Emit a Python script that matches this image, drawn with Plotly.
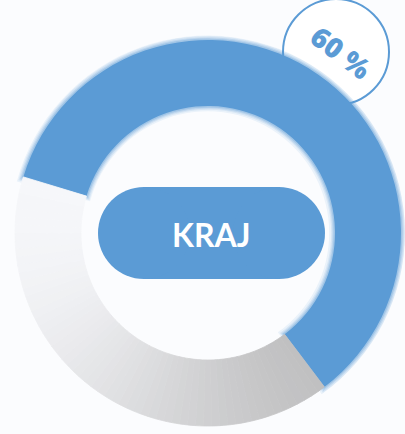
import math
import plotly.graph_objects as go

W, H = 405, 434

# ---- data ----
labels = ["Kraj", "Ostatní"]
values = [60, 40]
center_label = "KRAJ"
badge_label = "60 %"

# ---- style ----
BLUE = "#5b9bd5"
BG = "#fbfcfe"
LIGHT = (246, 247, 250)
DARK = (190, 190, 191)

cx, cy, R = 208, 233, 193
r_in = 127
start_deg = 163.1  # math angle (deg) where first slice starts, clockwise


def px(x):
    return x / W


def py(y):
    return 1 - y / H


total = sum(values)
blue_deg = 360 * values[0] / total

# gray slice split into sub-slices to imitate the linear gradient
N = 60
sub_vals = [values[1] / N] * N
sub_cols = []
phi = math.radians(35)
for i in range(N):
    frac = (values[0] + (i + 0.5) * values[1] / N) / total
    ang = math.radians(start_deg - 360 * frac)
    sx, sy = math.cos(ang), -math.sin(ang)
    proj = sx * math.cos(phi) + sy * math.sin(phi)
    t = max(0.0, min(1.0, (proj + 1) / 2)) ** 1.5
    c = tuple(round(LIGHT[k] + (DARK[k] - LIGHT[k]) * t) for k in range(3))
    sub_cols.append("rgb(%d,%d,%d)" % c)

fig = go.Figure()

# soft glow around the blue segment
for e, a in [(5, 0.10), (3.8, 0.14), (2.6, 0.20), (1.4, 0.28)]:
    Rg = R + e
    hg = (r_in - e) / Rg
    dlt = math.degrees(e / ((R + r_in) / 2))
    bd = blue_deg + 2 * dlt
    fig.add_trace(go.Pie(
        values=[bd, 360 - bd],
        marker=dict(colors=["rgba(91,155,213,%.2f)" % a, "rgba(0,0,0,0)"],
                    line=dict(width=0)),
        hole=hg, sort=False, direction="clockwise",
        rotation=90 - (start_deg + dlt),
        textinfo="none", hoverinfo="skip", showlegend=False,
        domain=dict(x=[px(cx - Rg), min(1, px(cx + Rg))], y=[py(cy + Rg), py(cy - Rg)]),
    ))

fig.add_trace(go.Pie(
    labels=[labels[0]] + ["%s %d" % (labels[1], i) for i in range(N)],
    values=[values[0]] + sub_vals,
    marker=dict(colors=[BLUE] + sub_cols,
                line=dict(color=[BLUE] + sub_cols, width=[0] + [0.8] * N)),
    hole=r_in / R, sort=False, direction="clockwise",
    rotation=90 - start_deg,
    textinfo="none", hoverinfo="skip", showlegend=False,
    domain=dict(x=[px(cx - R), px(cx + R)], y=[py(cy + R), py(cy - R)]),
))

shapes = []
# badge circle (behind the ring)
bx, by, br = 336, 52, 53
shapes.append(dict(type="circle", xref="paper", yref="paper", layer="below",
                   x0=px(bx - br), x1=px(bx + br), y0=py(by + br), y1=py(by - br),
                   fillcolor="white", line=dict(color=BLUE, width=2)))
# pill in the centre
pl, pr, pt, pb = 98, 325, 187, 279
ph = pb - pt
shapes.append(dict(type="rect", xref="paper", yref="paper", layer="above",
                   x0=px(pl + ph / 2), x1=px(pr - ph / 2), y0=py(pb), y1=py(pt),
                   fillcolor=BLUE, line=dict(width=0)))
for x0 in (pl, pr - ph):
    shapes.append(dict(type="circle", xref="paper", yref="paper", layer="above",
                       x0=px(x0), x1=px(x0 + ph), y0=py(pb), y1=py(pt),
                       fillcolor=BLUE, line=dict(width=0)))

annotations = [
    dict(text="<b>%s</b>" % center_label, x=px(211), y=py(234), xref="paper", yref="paper",
         showarrow=False, font=dict(family="Lato", size=32, color="white"),
         xanchor="center", yanchor="middle"),
    dict(text=badge_label, x=px(341), y=py(52), xref="paper", yref="paper",
         showarrow=False, font=dict(family="Open Sans", size=28, color=BLUE, weight=800),
         textangle=37, xanchor="center", yanchor="middle"),
]

fig.update_layout(width=W, height=H, margin=dict(l=0, r=0, t=0, b=0),
                  paper_bgcolor=BG, plot_bgcolor=BG,
                  shapes=shapes, annotations=annotations)

fig.write_html("out.html", config={"displayModeBar": False},
               post_script="document.body.style.margin='0';document.body.style.background='%s';" % BG)
